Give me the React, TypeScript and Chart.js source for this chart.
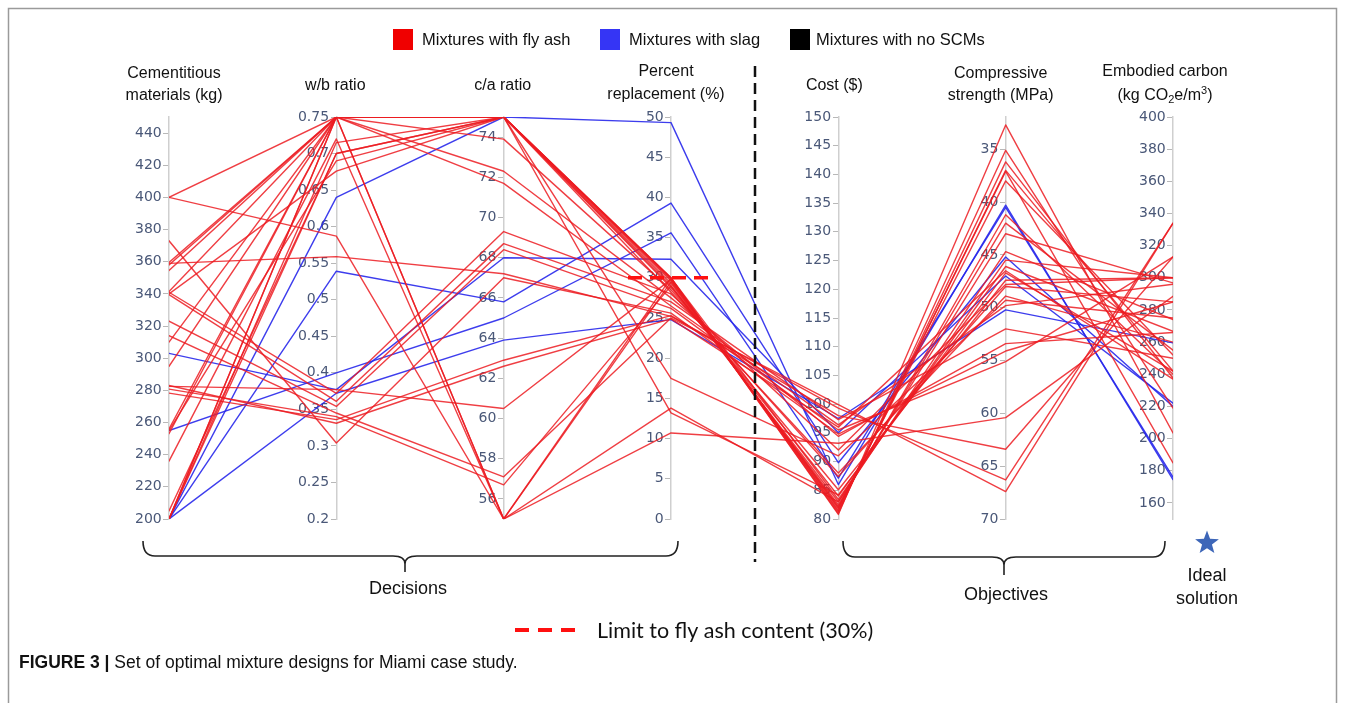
import React, { useEffect, useRef } from "react";
import { Chart, registerables } from "chart.js";

Chart.register(...registerables);

// ---------------- data ----------------
const mixtureType = [
  "fly ash", "fly ash", "fly ash", "fly ash", "fly ash", "fly ash", "fly ash",
  "fly ash", "fly ash", "fly ash", "fly ash", "fly ash", "fly ash", "fly ash",
  "fly ash", "fly ash", "fly ash", "fly ash", "fly ash", "fly ash", "fly ash",
  "fly ash", "fly ash", "fly ash", "fly ash", "fly ash", "fly ash", "fly ash",
  "slag", "slag", "slag", "slag", "slag",
];

const cementitious = [400, 358, 354.6, 341.5, 310, 295, 256, 200, 200, 359.6, 253, 236, 200, 200, 205, 255, 340, 400, 359, 282.5, 341, 339.5, 323, 314, 280.8, 278.3, 283, 373, 200, 200, 255, 303, 200];
const wbRatio = [0.75, 0.75, 0.75, 0.75, 0.75, 0.75, 0.75, 0.75, 0.75, 0.75, 0.75, 0.72, 0.715, 0.7, 0.7, 0.69, 0.676, 0.587, 0.559, 0.377, 0.372, 0.361, 0.354, 0.345, 0.34, 0.336, 0.331, 0.304, 0.64, 0.539, 0.4, 0.377, 0.372];
const caRatio = [75, 75, 73.9, 75, 75, 72.3, 55, 75, 55, 71.7, 75, 55, 75, 75, 75, 75, 75, 55, 67.2, 60.5, 69.3, 68.7, 68.4, 57.1, 56.7, 62.9, 62.6, 67.0, 75, 65.8, 65.0, 68.0, 63.9];
const percentReplacement = [29.9, 29.6, 28.5, 17.5, 30.0, 27.5, 30.0, 29.0, 13.8, 26.5, 13.2, 10.7, 29.8, 28.8, 29.3, 30.0, 28.2, 29.5, 25.2, 29.8, 28.0, 27.0, 26.2, 25.0, 29.0, 25.3, 24.9, 25.6, 49.3, 39.3, 35.6, 32.3, 24.8];
const cost = [81.0, 82.0, 87.4, 91.0, 80.8, 94.4, 83.4, 83.0, 83.0, 96.4, 84.2, 93.2, 81.5, 85.1, 82.5, 81.3, 88.0, 82.2, 99.3, 81.8, 92.0, 97.3, 95.5, 99.9, 84.0, 98.0, 96.0, 94.8, 86.0, 89.8, 87.1, 95.0, 97.5];
const compressiveStrength = [35.1, 38.0, 48.0, 49.3, 32.7, 53.4, 45.5, 43.0, 44.7, 49.8, 46.7, 60.4, 37.0, 47.4, 42.0, 36.2, 48.9, 41.2, 66.3, 37.1, 47.8, 52.0, 55.1, 67.4, 46.1, 63.4, 46.5, 54.1, 40.3, 45.2, 40.5, 47.0, 50.2];
const embodiedCarbon = [219, 252, 285, 275, 203.5, 266, 300, 296.8, 274, 296, 242, 288.5, 242, 300, 255, 237.7, 260, 240, 334, 184.9, 300, 250, 313, 334, 266.7, 313, 237, 285, 174.5, 220, 176, 222, 259.5];

const cementTicks = [200, 220, 240, 260, 280, 300, 320, 340, 360, 380, 400, 420, 440];
const wbTicks = [0.2, 0.25, 0.3, 0.35, 0.4, 0.45, 0.5, 0.55, 0.6, 0.65, 0.7, 0.75];
const caTicks = [56, 58, 60, 62, 64, 66, 68, 70, 72, 74];
const percentTicks = [0, 5, 10, 15, 20, 25, 30, 35, 40, 45, 50];
const costTicks = [80, 85, 90, 95, 100, 105, 110, 115, 120, 125, 130, 135, 140, 145, 150];
const strengthTicks = [35, 40, 45, 50, 55, 60, 65, 70];
const carbonTicks = [160, 180, 200, 220, 240, 260, 280, 300, 320, 340, 360, 380, 400];

const axisMin = [200, 0.2, 55, 0, 80, 31.95, 150];
const axisMax = [450, 0.75, 75, 50, 150, 70, 400];
const axisReverse = [false, false, false, false, false, true, false];
const flyAshLimit = 30;

const axisTitles = [
  ["Cementitious", "materials (kg)"],
  ["w/b ratio"],
  ["c/a ratio"],
  ["Percent", "replacement (%)"],
  ["Cost ($)"],
  ["Compressive", "strength (MPa)"],
  ["Embodied carbon", "(kg CO2e/m3)"],
];
const legendLabels = ["Mixtures with fly ash", "Mixtures with slag", "Mixtures with no SCMs"];

// ---------------- styles ----------------
const RED = "rgba(236, 28, 34, 0.85)";
const BLUE = "rgba(40, 40, 235, 0.9)";
const TICK_COLOR = "#4a5878";
const SANS = "'Liberation Sans', Arial, sans-serif";

const dims = [cementitious, wbRatio, caRatio, percentReplacement, cost, compressiveStrength, embodiedCarbon];
const tickSets = [cementTicks, wbTicks, caTicks, percentTicks, costTicks, strengthTicks, carbonTicks];
const titleOffsets = [5, -1, -1, -5, -4, -5, -8];

function norm(v: number, i: number) {
  const f = (v - axisMin[i]) / (axisMax[i] - axisMin[i]);
  return axisReverse[i] ? 1 - f : f;
}

function buildDatasets() {
  const red: any[] = [];
  const blue: any[] = [];
  mixtureType.forEach((t, k) => {
    const ds = {
      label: t,
      data: dims.map((arr, i) => ({ x: i, y: norm(arr[k], i) })),
      borderColor: t === "slag" ? BLUE : RED,
      borderWidth: 1.4,
      pointRadius: 0,
      tension: 0,
      fill: false,
      yAxisID: "y",
      xAxisID: "x",
    };
    (t === "slag" ? blue : red).push(ds);
  });
  return [...red, ...blue];
}

function buildScales() {
  const scales: any = {
    x: { type: "linear", min: 0, max: 6, display: false },
    y: { type: "linear", min: 0, max: 1, display: false },
  };
  dims.forEach((_, i) => {
    scales["y" + i] = {
      type: "linear",
      axis: "y",
      position: { x: i },
      min: axisMin[i],
      max: axisMax[i],
      reverse: axisReverse[i],
      afterBuildTicks: (s: any) => {
        s.ticks = tickSets[i].map((v) => ({ value: v }));
      },
      ticks: {
        autoSkip: false,
        callback: (v: any) => String(v) + " \u2009",
        font: { family: "'DejaVu Sans', Verdana, sans-serif", size: 14 },
        color: TICK_COLOR,
        padding: 2,
      },
      grid: { drawOnChartArea: false, drawTicks: true, tickLength: 5, color: "#b8b8b8", lineWidth: 1 },
      border: { display: true, color: "#cfcfcf", width: 1.5 },
    };
  });
  return scales;
}

function drawBrace(ctx: CanvasRenderingContext2D, x1: number, x2: number, cx: number, y0: number, y1: number, tip: number) {
  const r = 12;
  ctx.beginPath();
  ctx.moveTo(x1, y0);
  ctx.quadraticCurveTo(x1, y1, x1 + r, y1);
  ctx.lineTo(cx - r, y1);
  ctx.quadraticCurveTo(cx, y1, cx, y1 + 8);
  ctx.lineTo(cx, tip);
  ctx.moveTo(cx, y1 + 8);
  ctx.quadraticCurveTo(cx, y1, cx + r, y1);
  ctx.lineTo(x2 - r, y1);
  ctx.quadraticCurveTo(x2, y1, x2, y0);
  ctx.stroke();
}

function drawStar(ctx: CanvasRenderingContext2D, cx: number, cy: number, R: number, r: number) {
  ctx.beginPath();
  for (let k = 0; k < 10; k++) {
    const rad = k % 2 === 0 ? R : r;
    const a = -Math.PI / 2 + (k * Math.PI) / 5;
    ctx.lineTo(cx + rad * Math.cos(a), cy + rad * Math.sin(a));
  }
  ctx.closePath();
  ctx.fill();
}

const decorPlugin = {
  id: "decor",
  afterDraw(chart: any) {
    const ctx: CanvasRenderingContext2D = chart.ctx;
    const xs = chart.scales.x;
    ctx.save();

    // frame
    ctx.strokeStyle = "#9a9a9a";
    ctx.lineWidth = 1.5;
    ctx.beginPath();
    ctx.moveTo(8.5, 710);
    ctx.lineTo(8.5, 8.5);
    ctx.lineTo(1336.5, 8.5);
    ctx.lineTo(1336.5, 710);
    ctx.stroke();

    // fly ash limit on percent axis
    const yLim = chart.scales.y3.getPixelForValue(flyAshLimit);
    ctx.strokeStyle = "#ff1010";
    ctx.lineWidth = 3.5;
    ctx.setLineDash([14, 8]);
    ctx.beginPath();
    ctx.moveTo(628, yLim);
    ctx.lineTo(714, yLim);
    ctx.stroke();

    // divider
    ctx.strokeStyle = "#111";
    ctx.lineWidth = 2.5;
    ctx.setLineDash([11, 6]);
    ctx.beginPath();
    ctx.moveTo(755, 66);
    ctx.lineTo(755, 562);
    ctx.stroke();
    ctx.setLineDash([]);

    // axis titles
    ctx.fillStyle = "#111";
    ctx.textBaseline = "middle";
    ctx.textAlign = "center";
    ctx.font = "16px " + SANS;
    axisTitles.forEach((lines, i) => {
      const cx = xs.getPixelForValue(i) + titleOffsets[i];
      if (lines.length === 1) {
        ctx.fillText(lines[0], cx, 86);
      } else if (i === 6) {
        ctx.fillText(lines[0], cx, 72);
        // (kg CO2e/m3) with sub/superscript
        const parts: [string, number, number][] = [["(kg CO", 16, 0], ["2", 11, 4], ["e/m", 16, 0], ["3", 11, -5], [")", 16, 0]];
        let w = 0;
        parts.forEach(([s, sz]) => { ctx.font = sz + "px " + SANS; w += ctx.measureText(s).width; });
        let x = cx - w / 2;
        ctx.textAlign = "left";
        parts.forEach(([s, sz, dy]) => {
          ctx.font = sz + "px " + SANS;
          ctx.fillText(s, x, 96 + dy);
          x += ctx.measureText(s).width;
        });
        ctx.textAlign = "center";
        ctx.font = "16px " + SANS;
      } else {
        ctx.fillText(lines[0], cx, i === 3 ? 72 : 74);
        ctx.fillText(lines[1], cx, i === 3 ? 95 : 96);
      }
    });

    // top legend
    const legendColors = ["#f00000", "#3535f5", "#000000"];
    const legendX = [393, 600, 790];
    ctx.textAlign = "left";
    ctx.font = "16.5px " + SANS;
    legendLabels.forEach((lab, k) => {
      ctx.fillStyle = legendColors[k];
      ctx.fillRect(legendX[k], 29, 20, 21);
      ctx.fillStyle = "#111";
      ctx.fillText(lab, legendX[k] + (k === 2 ? 26 : 29), 40);
    });

    // braces
    ctx.strokeStyle = "#222";
    ctx.lineWidth = 1.6;
    drawBrace(ctx, 143, 678, 405, 541, 556, 572);
    drawBrace(ctx, 843, 1165, 1004, 541, 557, 575);
    ctx.fillStyle = "#111";
    ctx.textAlign = "center";
    ctx.font = "18px " + SANS;
    ctx.fillText("Decisions", 408, 589);
    ctx.fillText("Objectives", 1006, 595);
    ctx.fillText("Ideal", 1207, 576);
    ctx.fillText("solution", 1207, 599);

    // star
    ctx.fillStyle = "#3d66b8";
    drawStar(ctx, 1207, 543, 12.5, 5.2);

    // bottom legend
    ctx.strokeStyle = "#ff1010";
    ctx.lineWidth = 4;
    ctx.setLineDash([14, 9]);
    ctx.beginPath();
    ctx.moveTo(515, 630);
    ctx.lineTo(576, 630);
    ctx.stroke();
    ctx.setLineDash([]);
    ctx.fillStyle = "#111";
    ctx.textAlign = "left";
    ctx.font = "21.5px Lato, 'Open Sans', sans-serif";
    ctx.fillText("Limit to fly ash content (30%)", 597, 631);

    // caption
    ctx.font = "bold 17.5px " + SANS;
    const cap1 = "FIGURE 3 |";
    ctx.fillText(cap1, 19, 663);
    const w1 = ctx.measureText(cap1).width;
    ctx.font = "17.5px " + SANS;
    ctx.fillText(" Set of optimal mixture designs for Miami case study.", 19 + w1, 663);

    ctx.restore();
  },
};

export default function App() {
  const ref = useRef<HTMLCanvasElement>(null);
  useEffect(() => {
    if (!ref.current) return;
    const chart = new Chart(ref.current, {
      type: "line",
      data: { datasets: buildDatasets() },
      options: {
        responsive: false,
        animation: false,
        layout: { padding: { left: 169, right: 181, top: 117, bottom: 184 } },
        plugins: { legend: { display: false }, tooltip: { enabled: false }, title: { display: false } },
        scales: buildScales(),
        elements: { line: { borderCapStyle: "round", borderJoinStyle: "round" } },
      },
      plugins: [decorPlugin],
    } as any);
    return () => chart.destroy();
  }, []);
  return (
    <div style={{ position: "fixed", left: 0, top: 0, width: 1354, height: 703, background: "#fff" }}>
      <canvas ref={ref} width={1354} height={703} style={{ display: "block", width: 1354, height: 703 }} />
    </div>
  );
}
